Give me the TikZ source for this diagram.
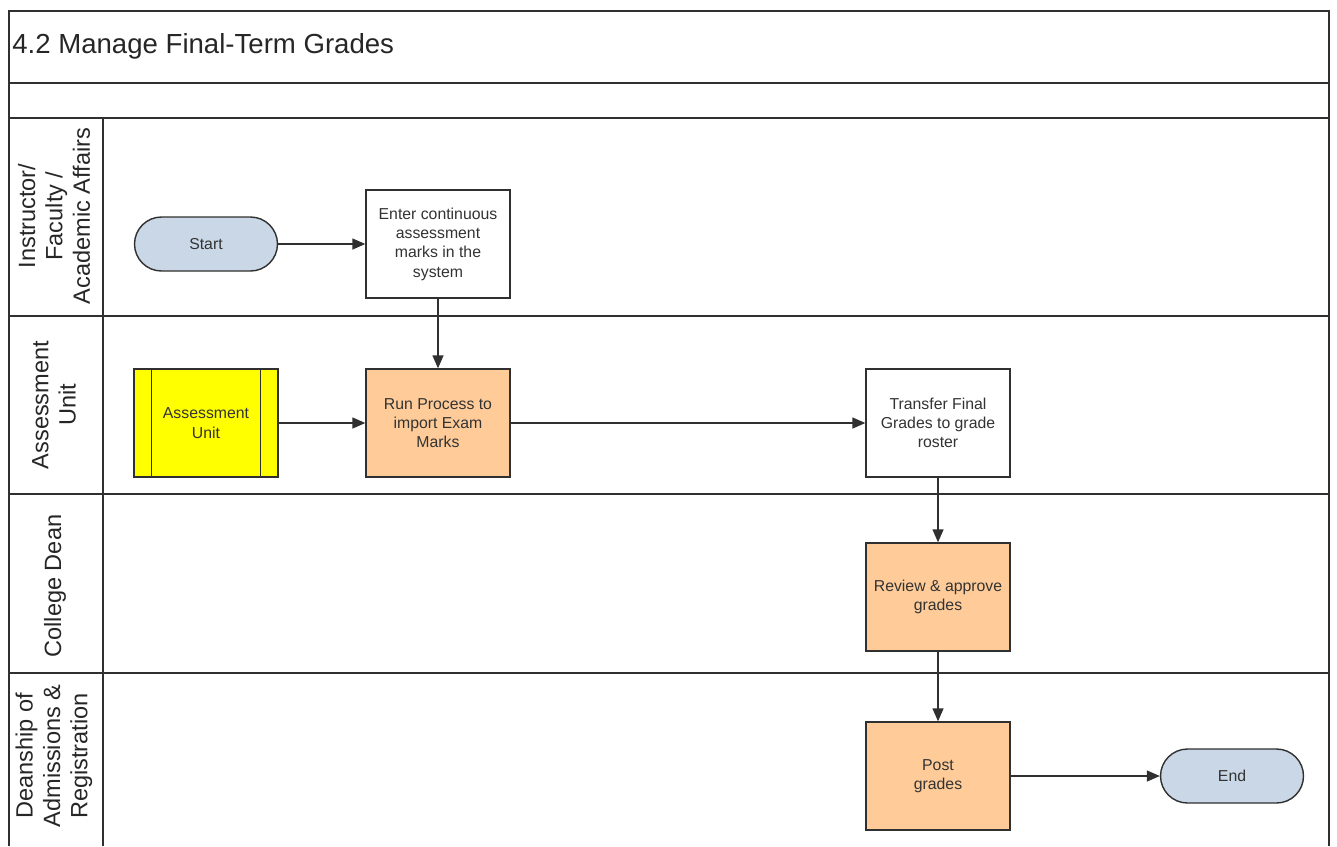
\documentclass[tikz,border=0pt]{standalone}
\usepackage{fontspec}
\setmainfont{Liberation Sans}
\usetikzlibrary{arrows.meta,calc}
\definecolor{termfill}{HTML}{C9D7E7}
\definecolor{procfill}{HTML}{FFCC99}
\definecolor{subfill}{HTML}{FFFF00}
\definecolor{linec}{HTML}{303030}
\begin{document}
\begin{tikzpicture}[x=0.02cm,y=-0.02cm,
  frame/.style={draw=linec,line width=0.9pt},
  lanelabel/.style={rotate=90,align=center,text=black!85,font=\fontsize{13.4}{15.6}\selectfont},
  proc/.style={draw=linec,line width=0.8pt,minimum width=2.88cm,minimum height=2.16cm,align=center,font=\fontsize{9}{11}\selectfont,text=black!80,inner sep=0pt},
  term/.style={draw=linec,line width=0.8pt,fill=termfill,rounded corners=0.54cm,minimum width=2.86cm,minimum height=1.08cm,font=\fontsize{9}{11}\selectfont,text=black!80},
  flow/.style={draw=linec,line width=0.8pt,-{Triangle[length=0.26cm,width=0.22cm]}}
]
\useasboundingbox (0,0) rectangle (1337,846);
% frame
\draw[frame] (9,846) -- (9,11) -- (1329,11) -- (1329,846);
\draw[frame] (9,83) -- (1329,83);
\draw[frame] (9,118) -- (1329,118);
\draw[frame] (9,316) -- (1329,316);
\draw[frame] (9,494) -- (1329,494);
\draw[frame] (9,673) -- (1329,673);
\draw[frame] (103,118) -- (103,846);
% title
\node[anchor=west,font=\fontsize{15.7}{18}\selectfont,text=black!85,inner sep=0pt] (title) at (12,46) {4.2 Manage Final-Term Grades};
% lane labels
\node[lanelabel] (l1) at (54,216) {Instructor/\\Faculty /\\Academic Affairs};
\node[lanelabel] (l2) at (54,405) {Assessment\\Unit};
\node[lanelabel] (l3) at (55,586) {College Dean};
\node[lanelabel] (l4) at (54,756) {Deanship of\\Admissions \&\\Registration};
% nodes
\node[term] (start) at (206,244) {Start};
\node[proc,fill=white] (enter) at (438,244) {Enter continuous\\assessment\\marks in the\\system};
\node[proc,fill=subfill] (au) at (206,423) {Assessment\\Unit};
\draw[linec,line width=0.8pt] ($(au.north west)+(18,0)$) -- ($(au.south west)+(18,0)$);
\draw[linec,line width=0.8pt] ($(au.north east)+(-18,0)$) -- ($(au.south east)+(-18,0)$);
\node[proc,fill=procfill] (run) at (438,423) {Run Process to\\import Exam\\Marks};
\node[proc,fill=white] (transfer) at (938,423) {Transfer Final\\Grades to grade\\roster};
\node[proc,fill=procfill] (review) at (938,597) {Review \& approve\\grades};
\node[proc,fill=procfill] (post) at (938,776) {Post\\grades};
\node[term] (end) at (1232,776) {End};
% connectors
\draw[flow] (start) -- (enter);
\draw[flow] (enter) -- (run);
\draw[flow] (au) -- (run);
\draw[flow] (run) -- (transfer);
\draw[flow] (transfer) -- (review);
\draw[flow] (review) -- (post);
\draw[flow] (post) -- (end);
\end{tikzpicture}
\end{document}
